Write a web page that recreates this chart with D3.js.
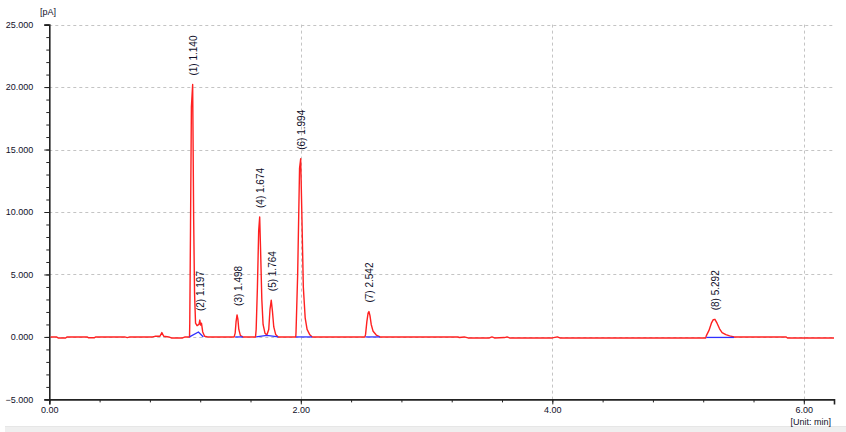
<!DOCTYPE html>
<html>
<head>
<meta charset="utf-8">
<script src="https://cdn.jsdelivr.net/npm/d3@7/dist/d3.min.js"></script>
<style>
  html, body { margin: 0; padding: 0; background: #fff; }
  svg { display: block; }
  text { font-family: "Liberation Sans", Arial, sans-serif; fill: #10102a; }
</style>
</head>
<body>
<svg id="chart" width="846" height="432"></svg>
<script>
// ---- Data ----
const traceTime = [
  0.01, 0.06, 0.07, 0.13, 0.14, 0.30, 0.31, 0.36, 0.37, 0.60, 0.62, 0.64, 0.82, 0.84, 0.88, 0.895, 0.91, 0.95, 0.97, 1.06, 1.08, 1.115,
  1.117, 1.123, 1.13, 1.14, 1.148, 1.155, 1.163, 1.175, 1.19, 1.197, 1.203, 1.21, 1.22, 1.235, 1.26,
  1.47, 1.478, 1.485, 1.493, 1.50, 1.507, 1.52, 1.54, 1.64,
  1.645, 1.655, 1.665, 1.673, 1.68, 1.69, 1.70, 1.715, 1.73, 1.745, 1.755, 1.765, 1.775, 1.785, 1.80, 1.82, 1.96,
  1.962, 1.975, 1.99, 1.999, 2.008, 2.02, 2.035, 2.05, 2.07, 2.09, 2.51,
  2.515, 2.525, 2.535, 2.542, 2.55, 2.56, 2.575, 2.60, 2.63,
  3.25, 3.26, 3.30, 3.33, 3.50, 3.52, 3.54, 3.62, 3.64, 3.66, 4.00, 4.04, 4.06, 5.22,
  5.225, 5.245, 5.265, 5.28, 5.293, 5.31, 5.33, 5.35, 5.38, 5.41, 5.445, 5.86, 5.87, 6.24
];
const traceSignal = [
  0, 0, -0.08, -0.08, 0, 0, -0.06, -0.06, 0, 0, -0.05, 0, 0, 0.05, 0.05, 0.35, 0.05, 0, -0.08, -0.08, 0, 0,
  1.1, 8.8, 18.4, 20.2, 9.4, 3.5, 1.1, 0.9, 1.0, 1.35, 0.95, 1.1, 0.4, 0.05, 0,
  0, 0.3, 1.2, 1.76, 1.4, 0.6, 0.1, 0, 0,
  0.6, 4.0, 8.5, 9.6, 7.0, 3.0, 1.0, 0.3, 0.15, 0.6, 2.2, 2.94, 2.0, 0.8, 0.2, 0, 0,
  0.4, 5.0, 13.5, 14.26, 10.0, 4.0, 1.5, 0.6, 0.2, 0, 0,
  0.2, 1.2, 1.9, 2.03, 1.7, 1.0, 0.45, 0.15, 0,
  0, -0.05, 0, -0.08, -0.08, 0, -0.08, -0.05, 0, -0.08, -0.08, 0, -0.08, -0.08,
  0.1, 0.5, 1.1, 1.38, 1.41, 1.1, 0.65, 0.35, 0.18, 0.08, 0, 0, -0.08, -0.08
];

// integration baselines (blue), one polyline per peak group
const baselineTimes = [[1.115, 1.186, 1.225], [1.478, 1.54], [1.645, 1.73, 1.82], [1.962, 2.09], [2.515, 2.63], [5.225, 5.445]];
const baselineValues = [[0, 0.4, 0], [0, 0], [0, 0.13, 0], [0, 0], [0, 0], [-0.04, -0.04]];

const peakNumbers = [1, 2, 3, 4, 5, 6, 7, 8];
const peakTimes = [1.140, 1.197, 1.498, 1.674, 1.764, 1.994, 2.542, 5.292];
const peakHeights = [20.2, 1.35, 1.76, 9.6, 2.94, 14.26, 2.03, 1.41];

const yMajorTicks = [-5, 0, 5, 10, 15, 20, 25];
const yGridTicks = [0, 5, 10, 15, 20, 25];
const xMajorTicks = [0, 2, 4, 6];
const xGridTicks = [2, 4, 6];
const yUnitLabel = "[pA]";
const xUnitLabel = "[Unit: min]";

// ---- Layout ----
const svg = d3.select("#chart");
const x = d3.scaleLinear().domain([0, 6.24]).range([49.3, 834]);
const y = d3.scaleLinear().domain([-5, 25]).range([399.4, 24.6]);

const yMinorTicks = d3.range(-5, 25.001, 1);
const xMinorTicks = d3.range(0, 6.24, 0.4);

// bottom gray band
svg.append("rect").attr("x", 5).attr("y", 427).attr("width", 841).attr("height", 5).attr("fill", "#efefef");
svg.append("line").attr("x1", 5).attr("x2", 846).attr("y1", 426.5).attr("y2", 426.5).attr("stroke", "#e6e6e6");

// gridlines
svg.append("g").selectAll("line").data(yGridTicks).join("line")
  .attr("x1", x(0)).attr("x2", x(6.24))
  .attr("y1", d => Math.round(y(d)) + 0.5).attr("y2", d => Math.round(y(d)) + 0.5)
  .attr("stroke", "#c4c4c4").attr("stroke-dasharray", "3,3");
svg.append("g").selectAll("line").data(xGridTicks).join("line")
  .attr("x1", d => Math.round(x(d)) + 0.5).attr("x2", d => Math.round(x(d)) + 0.5)
  .attr("y1", y(25)).attr("y2", y(-5))
  .attr("stroke", "#c4c4c4").attr("stroke-dasharray", "3,3");

// Y axis
const yAxisMinor = d3.axisLeft(y).tickValues(yMinorTicks).tickSize(3).tickFormat("");
const yAxisMajor = d3.axisLeft(y).tickValues(yMajorTicks).tickSize(5).tickPadding(11)
  .tickFormat(d3.format(".3f"));
svg.append("g").attr("transform", `translate(${x(0)},0)`).call(yAxisMinor)
  .call(g => g.select(".domain").remove())
  .call(g => g.selectAll("line").attr("stroke", "#222"));
const gy = svg.append("g").attr("transform", `translate(${x(0)},0)`).call(yAxisMajor);
gy.select(".domain").attr("stroke", "#222").attr("stroke-width", 1.6);
gy.selectAll("line").attr("stroke", "#222");
gy.selectAll("text").attr("font-size", 9).attr("fill", "#10102a")
  .style("font-family", "'Liberation Sans', Arial, sans-serif");

// X axis
const xAxisMinor = d3.axisBottom(x).tickValues(xMinorTicks).tickSize(3).tickFormat("");
const xAxisMajor = d3.axisBottom(x).tickValues(xMajorTicks).tickSize(5).tickPadding(2)
  .tickFormat(d3.format(".2f"));
svg.append("g").attr("transform", `translate(0,${y(-5)})`).call(xAxisMinor)
  .call(g => g.select(".domain").remove())
  .call(g => g.selectAll("line").attr("stroke", "#222"));
const gx = svg.append("g").attr("transform", `translate(0,${y(-5)})`).call(xAxisMajor);
gx.select(".domain").attr("stroke", "#222").attr("stroke-width", 1.6);
gx.selectAll("line").attr("stroke", "#222");
gx.selectAll("text").attr("font-size", 9).attr("fill", "#10102a")
  .style("font-family", "'Liberation Sans', Arial, sans-serif");

// unit labels
svg.append("text").attr("x", 48).attr("y", 15).attr("text-anchor", "middle")
  .attr("font-size", 9).text(yUnitLabel);
svg.append("text").attr("x", 831).attr("y", 425).attr("text-anchor", "end")
  .attr("font-size", 9).text(xUnitLabel);

// chromatogram trace
const pts = traceTime.map((t, i) => [t, traceSignal[i]]);
const line = d3.line().x(d => x(d[0])).y(d => y(d[1]));
svg.append("path").datum(pts).attr("d", line)
  .attr("fill", "none").attr("stroke", "#ff2020").attr("stroke-width", 1.4)
  .attr("stroke-linejoin", "round");

// integration baselines
baselineTimes.forEach((ts, k) => {
  const bp = ts.map((t, i) => [t, baselineValues[k][i]]);
  svg.append("path").datum(bp).attr("d", line)
    .attr("fill", "none").attr("stroke", "#3030ff").attr("stroke-width", 1.3);
});

// peak labels
svg.append("g").selectAll("text").data(peakNumbers).join("text")
  .attr("transform", (d, i) => `translate(${x(peakTimes[i]) + 1},${y(peakHeights[i]) - 9}) rotate(-90)`)
  .attr("dy", "0.35em")
  .attr("font-size", 10)
  .attr("text-anchor", "start")
  .text((d, i) => `(${d}) ${peakTimes[i].toFixed(3)}`);
</script>
</body>
</html>
